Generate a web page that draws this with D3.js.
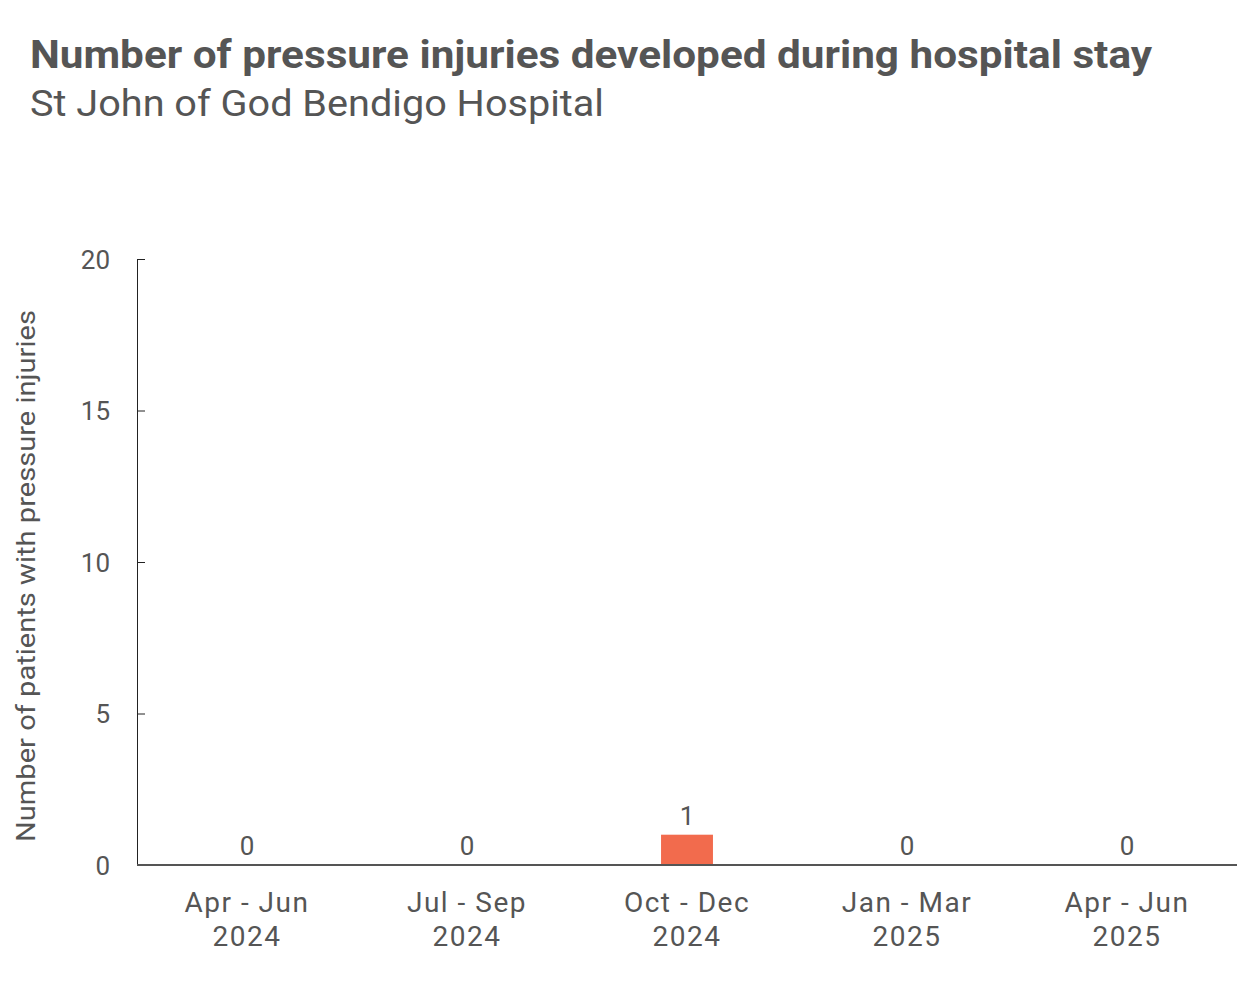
<!DOCTYPE html>
<html>
<head>
<meta charset="utf-8">
<script src="https://cdn.jsdelivr.net/npm/d3@7"></script>
<style>
  body { margin: 0; background: #fff; }
  svg text { font-family: "Roboto", "Open Sans", sans-serif; fill: #555; }
</style>
</head>
<body>
<div id="chart"></div>
<script>
// chart values
const quarters = ["Apr - Jun", "Jul - Sep", "Oct - Dec", "Jan - Mar", "Apr - Jun"];
const years = ["2024", "2024", "2024", "2025", "2025"];
const injuries = [0, 0, 1, 0, 0];
const yTicks = [0, 5, 10, 15, 20];

const width = 1260, height = 981;
const margin = {top: 259, right: 23, bottom: 116, left: 137};

const svg = d3.select("#chart").append("svg")
  .attr("width", width).attr("height", height);

svg.append("text")
  .attr("x", 30).attr("y", 68)
  .style("font-size", "38px").style("font-weight", "bold")
  .attr("textLength", 1122).attr("lengthAdjust", "spacingAndGlyphs")
  .text("Number of pressure injuries developed during hospital stay");

svg.append("text")
  .attr("x", 30).attr("y", 116)
  .style("font-size", "36px")
  .attr("textLength", 574).attr("lengthAdjust", "spacingAndGlyphs")
  .text("St John of God Bendigo Hospital");

const x = d3.scaleBand()
  .domain(d3.range(quarters.length))
  .range([margin.left, width - margin.right]);

const y = d3.scaleLinear()
  .domain([0, 20])
  .range([height - margin.bottom, margin.top]);

const barW = x.step() * 0.236;

// bars
svg.append("g").selectAll("rect")
  .data(injuries)
  .join("rect")
  .attr("x", (d, i) => x(i) + x.bandwidth() / 2 - barW / 2)
  .attr("y", d => y(d))
  .attr("width", barW)
  .attr("height", d => y(0) - y(d))
  .attr("fill", "#f26b4d");

// value labels
svg.append("g").selectAll("text")
  .data(injuries)
  .join("text")
  .attr("x", (d, i) => x(i) + x.bandwidth() / 2)
  .attr("y", d => y(d) - 10)
  .attr("text-anchor", "middle")
  .style("font-size", "26px")
  .text(d => d);

// y axis, ticks pointing inward
const yAxis = svg.append("g")
  .attr("transform", `translate(${margin.left},0)`)
  .call(d3.axisRight(y).tickValues(yTicks).tickSize(8).tickSizeOuter(8));
yAxis.select(".domain").attr("stroke", "#222");
yAxis.selectAll(".tick line").attr("stroke", "#222");
yAxis.selectAll(".tick text")
  .attr("x", -27).attr("dy", "0.35em")
  .attr("text-anchor", "end")
  .style("font-size", "26px")
  .attr("fill", null);

// x axis line
svg.append("line")
  .attr("x1", margin.left).attr("x2", width - margin.right)
  .attr("y1", y(0)).attr("y2", y(0))
  .attr("stroke", "#555").attr("stroke-width", 2);

// category labels
const xl = svg.append("g").selectAll("text")
  .data(quarters)
  .join("text")
  .attr("x", (d, i) => x(i) + x.bandwidth() / 2)
  .attr("y", 912)
  .attr("text-anchor", "middle")
  .style("font-size", "28px")
  .style("letter-spacing", "1.5px");
xl.append("tspan").text(d => d);
xl.append("tspan")
  .attr("x", (d, i) => x(i) + x.bandwidth() / 2)
  .attr("dy", 34)
  .text((d, i) => years[i]);

// y axis title
svg.append("text")
  .attr("transform", `translate(35,${(y(0) + y(20)) / 2 + 14}) rotate(-90)`)
  .attr("text-anchor", "middle")
  .style("font-size", "25px")
  .attr("textLength", 532).attr("lengthAdjust", "spacingAndGlyphs")
  .text("Number of patients with pressure injuries");
</script>
</body>
</html>
